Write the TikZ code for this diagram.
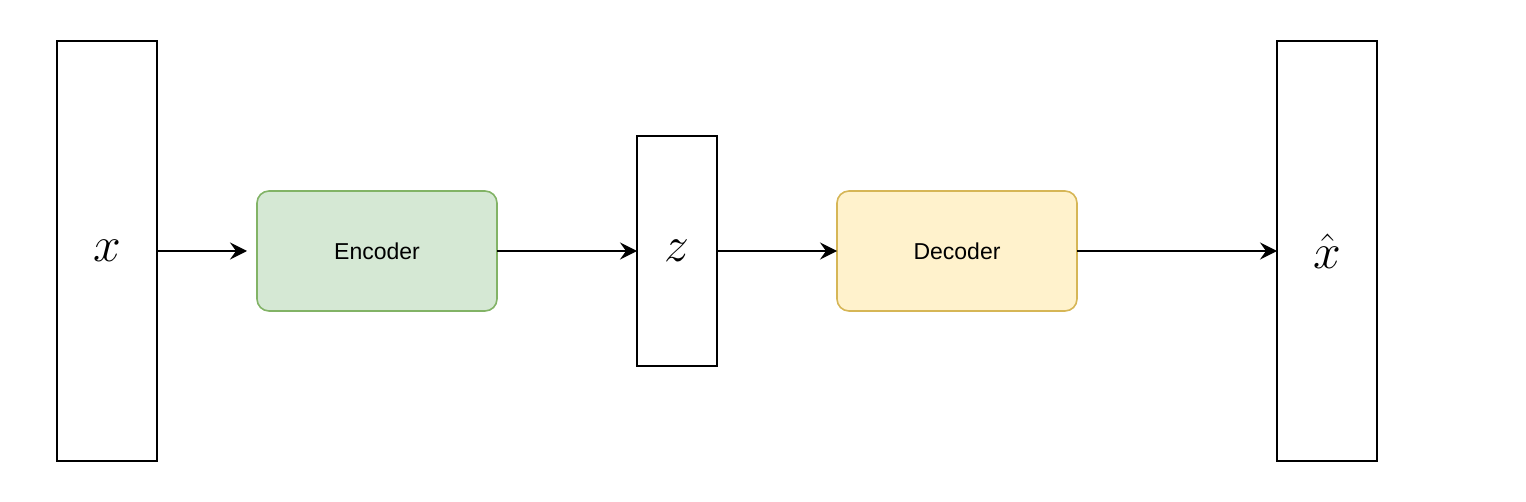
\documentclass[tikz,border=0pt]{standalone}
\usepackage{fontspec}
\usepackage{amsmath}
\usepackage{tikz}
\usetikzlibrary{positioning,arrows.meta}
\newfontfamily\labelfont{Liberation Sans}
\definecolor{encfill}{HTML}{D5E8D4}
\definecolor{encline}{HTML}{82B366}
\definecolor{decfill}{HTML}{FFF2CC}
\definecolor{decline}{HTML}{D6B656}

\begin{document}
\begin{tikzpicture}[
  vec/.style={draw, line width=0.8pt, outer sep=0pt, minimum width=50pt, minimum height=210pt, inner sep=0pt, font=\fontsize{24}{28}\selectfont},
  block/.style={draw, line width=0.8pt, outer sep=0pt, rounded corners=6pt, minimum width=120pt, minimum height=60pt, inner sep=0pt, font=\labelfont\fontsize{11.5}{14}\selectfont},
  arr/.style={-{Stealth[length=8.5pt, width=8.5pt, inset=3pt]}, line width=0.8pt}
]
\useasboundingbox (0,0) rectangle (763pt,-251pt);
\node[vec] (x) at (53.5pt,-125.5pt) {$x$};
\node[block, fill=encfill, draw=encline, right=50pt of x] (enc) {Encoder};
\node[vec, minimum width=40pt, minimum height=115pt, right=70pt of enc] (z) {$z$};
\node[block, fill=decfill, draw=decline, right=60pt of z] (dec) {Decoder};
\node[vec, right=100pt of dec] (xhat) {$\hat{x}$};

\draw[arr, shorten >=5pt] (x) -- (enc);
\draw[arr] (enc) -- (z);
\draw[arr] (z) -- (dec);
\draw[arr] (dec) -- (xhat);
\end{tikzpicture}
\end{document}
